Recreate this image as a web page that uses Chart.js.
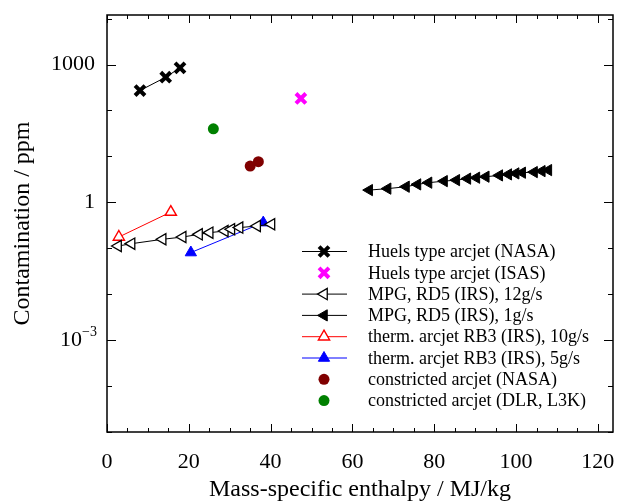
<!DOCTYPE html>
<html>
<head>
<meta charset="utf-8">
<script src="https://cdn.jsdelivr.net/npm/chart.js@4.4.1/dist/chart.umd.min.js"></script>
<style>
  html, body { margin: 0; padding: 0; background: #fff; }
  #wrap { width: 634px; height: 503px; }
</style>
</head>
<body>
<div id="wrap"><canvas id="contChart" width="634" height="503"></canvas></div>
<script>
// data (x: MJ/kg, y: ppm)
const huelsNasaX = [8.07, 14.35, 17.85];
const huelsNasaY = [272, 530, 848];
const huelsIsasX = [47.4];
const huelsIsasY = [183];
const mpg12X = [2.7, 6.0, 13.6, 18.5, 22.5, 25.1, 28.8, 30.4, 32.4, 36.7, 40.2];
const mpg12Y = [0.112, 0.126, 0.157, 0.176, 0.201, 0.219, 0.238, 0.259, 0.282, 0.306, 0.333];
const mpg1X = [64.1, 68.6, 73.1, 75.9, 78.6, 82.4, 85.4, 88.1, 90.3, 92.6, 95.9, 98.1, 99.9, 101.5, 104.4, 106.3, 107.9];
const mpg1Y = [1.85, 1.99, 2.19, 2.46, 2.68, 2.90, 3.05, 3.28, 3.44, 3.62, 3.86, 4.06, 4.27, 4.42, 4.56, 4.79, 5.04];
const rb3_10X = [2.9, 15.6];
const rb3_10Y = [0.176, 0.615];
const rb3_5X = [20.5, 38.2];
const rb3_5Y = [0.0807, 0.362];
const constrNasaX = [35.0, 37.0];
const constrNasaY = [6.15, 7.67];
const constrDlrX = [26.0];
const constrDlrY = [40];

const xTickLabels = [0, 20, 40, 60, 80, 100, 120];
const yTickLabels = [1e3, 1, 1e-3];

const serif = "'Liberation Serif', 'Times New Roman', serif";

function pts(xs, ys) {
    return xs.map((v, i) => ({ x: v, y: ys[i] }));
}

const datasets = [
    { label: 'Huels type arcjet (NASA)', data: pts(huelsNasaX, huelsNasaY), showLine: true,
      borderColor: '#000', backgroundColor: '#000', borderWidth: 1,
      pointStyle: 'crossRot', pointRadius: 7, pointBorderWidth: 4, pointBorderColor: '#000' },
    { label: 'Huels type arcjet (ISAS)', data: pts(huelsIsasX, huelsIsasY), showLine: false,
      borderColor: '#ff00ff', backgroundColor: '#ff00ff',
      pointStyle: 'crossRot', pointRadius: 7, pointBorderWidth: 4, pointBorderColor: '#ff00ff' },
    { label: 'MPG, RD5 (IRS), 12g/s', data: pts(mpg12X, mpg12Y), showLine: true,
      borderColor: '#000', backgroundColor: '#fff', borderWidth: 1,
      pointStyle: 'triangle', pointRotation: -90, pointRadius: 6.5, pointBorderWidth: 1.3, pointBorderColor: '#000' },
    { label: 'MPG, RD5 (IRS), 1g/s', data: pts(mpg1X, mpg1Y), showLine: true,
      borderColor: '#000', backgroundColor: '#000', borderWidth: 1,
      pointStyle: 'triangle', pointRotation: -90, pointRadius: 6.5, pointBorderWidth: 1, pointBorderColor: '#000' },
    { label: 'therm. arcjet RB3 (IRS), 10g/s', data: pts(rb3_10X, rb3_10Y), showLine: true,
      borderColor: '#ff0000', backgroundColor: '#fff', borderWidth: 1,
      pointStyle: 'triangle', pointRadius: 6.5, pointBorderWidth: 1.4, pointBorderColor: '#ff0000' },
    { label: 'therm. arcjet RB3 (IRS), 5g/s', data: pts(rb3_5X, rb3_5Y), showLine: true,
      borderColor: '#0000ff', backgroundColor: '#0000ff', borderWidth: 1,
      pointStyle: 'triangle', pointRadius: 6.5, pointBorderWidth: 1, pointBorderColor: '#0000ff' },
    { label: 'constricted arcjet (NASA)', data: pts(constrNasaX, constrNasaY), showLine: false,
      borderColor: '#800000', backgroundColor: '#800000',
      pointStyle: 'circle', pointRadius: 5.5, pointBorderWidth: 0 },
    { label: 'constricted arcjet (DLR, L3K)', data: pts(constrDlrX, constrDlrY), showLine: false,
      borderColor: '#008000', backgroundColor: '#008000',
      pointStyle: 'circle', pointRadius: 5.5, pointBorderWidth: 0 }
];

// frame, inward ticks, tick labels, titles and legend
const framePlugin = {
    id: 'frame',
    afterDraw(chart) {
        const { ctx, chartArea: a, scales: { x, y } } = chart;
        ctx.save();
        ctx.strokeStyle = '#000';
        ctx.lineWidth = 1;
        for (let v = 0; v <= 120; v += 5) {
            const px = Math.round(x.getPixelForValue(v)) + 0.5;
            const len = v % 20 === 0 ? 8 : 4;
            ctx.beginPath();
            ctx.moveTo(px, a.bottom); ctx.lineTo(px, a.bottom - len);
            ctx.moveTo(px, a.top); ctx.lineTo(px, a.top + len);
            ctx.stroke();
        }
        for (let k = -5; k <= 4; k++) {
            const py = Math.round(y.getPixelForValue(Math.pow(10, k))) + 0.5;
            const len = k % 3 === 0 ? 9 : 5;
            ctx.beginPath();
            ctx.moveTo(a.left, py); ctx.lineTo(a.left + len, py);
            ctx.moveTo(a.right, py); ctx.lineTo(a.right - len, py);
            ctx.stroke();
        }
        ctx.lineWidth = 1.5;
        ctx.strokeRect(a.left, a.top, a.right - a.left, a.bottom - a.top);

        ctx.fillStyle = '#000';
        ctx.font = '22px ' + serif;
        ctx.textAlign = 'center';
        ctx.textBaseline = 'middle';
        xTickLabels.forEach(v => ctx.fillText(String(v), x.getPixelForValue(v), a.bottom + 30));

        ctx.textAlign = 'right';
        yTickLabels.forEach(v => {
            const py = y.getPixelForValue(v);
            if (v >= 1) {
                ctx.font = '22px ' + serif;
                ctx.fillText(String(v), 95, py);
            } else {
                const exp = '\u2212' + Math.round(-Math.log10(v));
                ctx.font = '14px ' + serif;
                const w = ctx.measureText(exp).width;
                ctx.fillText(exp, 97, py - 8);
                ctx.font = '22px ' + serif;
                ctx.fillText('10', 97 - w, py);
            }
        });

        ctx.font = '24px ' + serif;
        ctx.textAlign = 'center';
        ctx.fillText('Mass-specific enthalpy / MJ/kg', (a.left + a.right) / 2, 490);
        ctx.save();
        ctx.translate(23, (a.top + a.bottom) / 2);
        ctx.rotate(-Math.PI / 2);
        ctx.fillText('Contamination / ppm', 0, 0);
        ctx.restore();

        // legend
        ctx.font = '18px ' + serif;
        ctx.textAlign = 'left';
        chart.data.datasets.forEach((ds, i) => {
            const ly = 251.5 + i * 21.3;
            if (ds.showLine) {
                ctx.strokeStyle = ds.borderColor;
                ctx.lineWidth = 1;
                ctx.beginPath();
                ctx.moveTo(302, ly); ctx.lineTo(347, ly);
                ctx.stroke();
            }
            ctx.fillStyle = ds.backgroundColor;
            ctx.strokeStyle = ds.pointBorderColor || ds.borderColor;
            ctx.lineWidth = ds.pointBorderWidth;
            Chart.helpers.drawPoint(ctx, {
                pointStyle: ds.pointStyle,
                rotation: ds.pointRotation || 0,
                radius: ds.pointRadius,
                borderWidth: ds.pointBorderWidth
            }, 324, ly);
            ctx.fillStyle = '#000';
            ctx.fillText(ds.label, 368, ly + 1);
        });
        ctx.restore();
    }
};

const ctx = document.getElementById('contChart').getContext('2d');
const chart = new Chart(ctx, {
    type: 'scatter',
    data: { datasets: datasets },
    options: {
        responsive: false,
        animation: false,
        layout: { padding: { left: 107, right: 21, top: 15, bottom: 71 } },
        plugins: { legend: { display: false }, tooltip: { enabled: false } },
        scales: {
            x: { type: 'linear', min: 0, max: 123.7, display: false },
            y: { type: 'logarithmic', min: 1e-5, max: 1.2e4, display: false }
        }
    },
    plugins: [framePlugin]
});
</script>
</body>
</html>
